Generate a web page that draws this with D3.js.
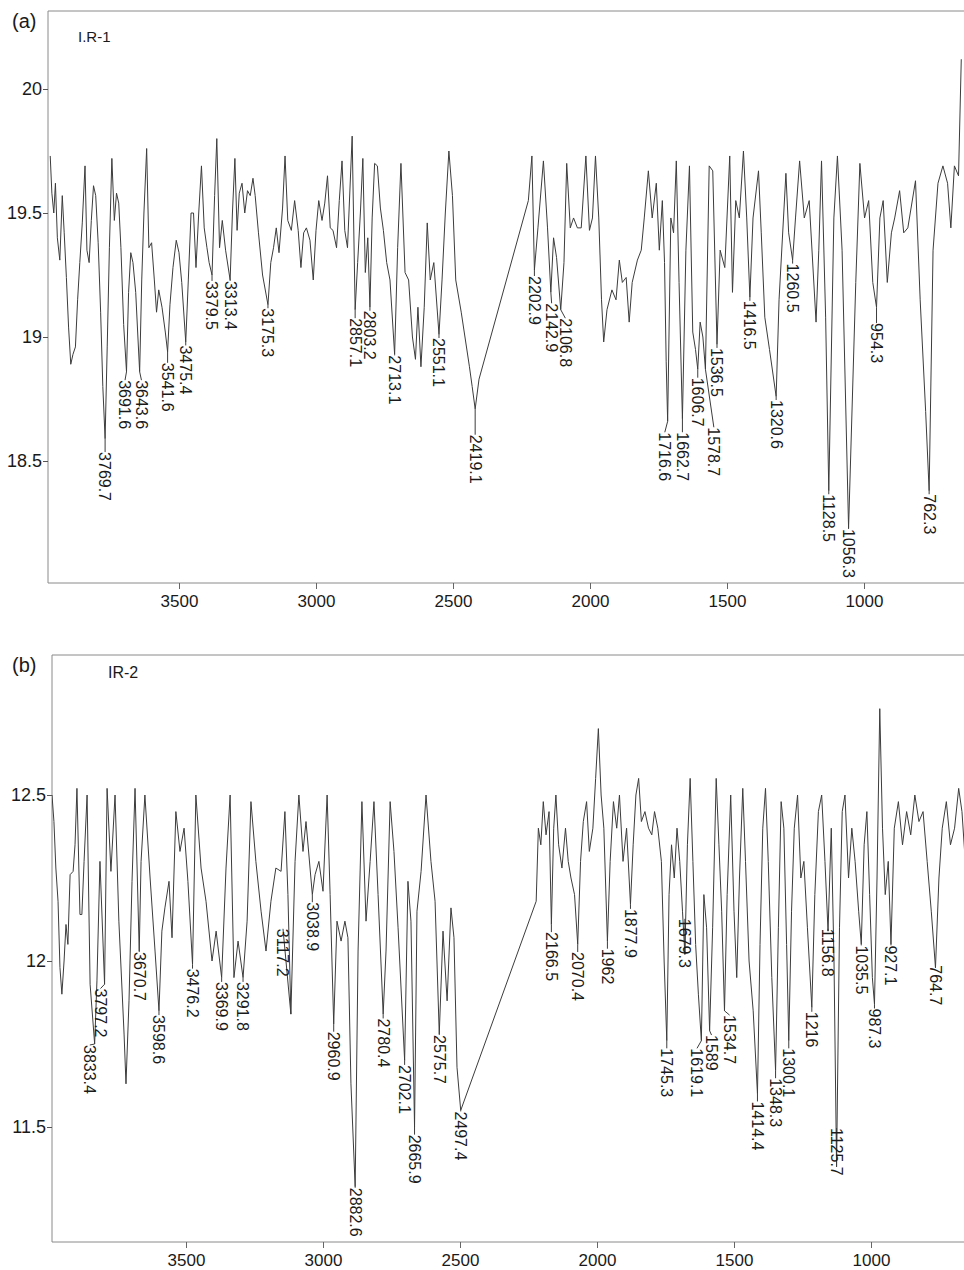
<!DOCTYPE html>
<html>
<head>
<meta charset="utf-8">
<script src="https://cdn.jsdelivr.net/npm/d3@7"></script>
<style>
  body { margin: 0; background: #fff; }
  svg { display: block; }
  text { font-family: "Liberation Sans", Arial, sans-serif; fill: #1a1a1a; }
</style>
</head>
<body>
<div id="chart"></div>
<script>
// wavenumber (cm-1) ticks, shared by both spectra
const xTicks = [3500, 3000, 2500, 2000, 1500, 1000];

// (a) I.R-1 : [wavenumber, transmittance]
const yTicksA = [20, 19.5, 19, 18.5];
const specA = [
  [3970,19.73],[3964,19.58],[3957,19.50],[3951,19.62],[3944,19.40],[3935,19.31],[3926,19.57],[3919,19.42],
  [3911,19.24],[3903,19.04],[3895,18.89],[3887,18.93],[3878,18.96],[3870,19.15],[3862,19.30],[3853,19.46],
  [3843,19.69],[3836,19.35],[3828,19.30],[3820,19.47],[3812,19.61],[3804,19.57],[3795,19.38],[3786,19.10],
  [3778,18.80],[3769.7,18.59],[3762,18.96],[3754,19.36],[3745,19.72],[3736,19.47],[3728,19.58],[3720,19.54],
  [3712,19.36],[3702,19.05],[3691.6,18.86],[3684,19.18],[3676,19.34],[3668,19.30],[3658,19.18],[3650,19.00],
  [3643.6,18.86],[3636,19.23],[3628,19.50],[3618,19.76],[3610,19.36],[3600,19.38],[3590,19.23],[3582,19.10],
  [3574,19.19],[3562,19.12],[3550,19.02],[3541.6,18.94],[3533,19.13],[3522,19.28],[3510,19.39],[3500,19.34],
  [3490,19.22],[3475.4,18.98],[3466,19.23],[3456,19.50],[3447,19.50],[3438,19.28],[3428,19.50],[3418,19.69],
  [3408,19.44],[3398,19.36],[3390,19.30],[3379.5,19.25],[3370,19.57],[3362,19.80],[3352,19.36],[3342,19.47],
  [3330,19.35],[3313.4,19.23],[3305,19.50],[3296,19.72],[3288,19.43],[3280,19.58],[3270,19.62],[3260,19.50],
  [3250,19.59],[3240,19.57],[3230,19.64],[3222,19.57],[3210,19.42],[3195,19.25],[3175.3,19.13],[3165,19.30],
  [3155,19.36],[3145,19.44],[3135,19.34],[3122,19.52],[3113,19.73],[3103,19.47],[3090,19.43],[3078,19.55],
  [3065,19.43],[3055,19.28],[3045,19.42],[3035,19.44],[3022,19.39],[3010,19.23],[3000,19.43],[2990,19.55],
  [2978,19.47],[2968,19.54],[2958,19.65],[2948,19.44],[2938,19.43],[2925,19.36],[2915,19.55],[2905,19.71],
  [2895,19.43],[2885,19.36],[2868,19.81],[2857.1,19.11],[2848,19.30],[2838,19.50],[2829,19.72],[2820,19.26],
  [2811,19.40],[2803.2,19.12],[2795,19.48],[2786,19.70],[2776,19.69],[2765,19.52],[2754,19.43],[2742,19.30],
  [2730,19.23],[2713.1,18.93],[2702,19.36],[2690,19.70],[2675,19.26],[2662,19.23],[2648,19.00],[2637,18.91],
  [2628,19.12],[2617,18.88],[2605,19.12],[2594,19.46],[2583,19.23],[2570,19.30],[2551.1,19.01],[2540,19.23],
  [2528,19.50],[2515,19.75],[2502,19.57],[2490,19.23],[2470,19.10],[2440,18.88],[2430,18.80],[2419.1,18.71],
  [2405,18.83],[2225,19.55],[2212,19.73],[2202.9,19.27],[2190,19.44],[2170,19.71],[2155,19.44],[2142.9,19.18],
  [2133,19.40],[2122,19.32],[2106.8,19.11],[2095,19.30],[2085,19.70],[2072,19.44],[2060,19.48],[2046,19.44],
  [2032,19.44],[2015,19.73],[2002,19.43],[1991,19.48],[1980,19.73],[1968,19.48],[1958,19.15],[1950,18.98],
  [1938,19.11],[1920,19.19],[1905,19.15],[1893,19.31],[1882,19.22],[1868,19.24],[1857,19.06],[1846,19.22],
  [1827,19.31],[1813,19.35],[1802,19.48],[1787,19.67],[1773,19.48],[1758,19.62],[1747,19.35],[1736,19.55],
  [1728,19.30],[1722,18.90],[1716.6,18.66],[1705,19.48],[1695,19.42],[1685,19.71],[1675,19.22],[1662.7,18.67],
  [1650,19.35],[1637,19.69],[1625,19.02],[1615,18.95],[1606.7,18.87],[1598,19.06],[1588,19.00],[1578.7,18.87],
  [1565,19.69],[1552,19.67],[1536.5,18.97],[1525,19.35],[1508,19.28],[1490,19.73],[1480,19.18],[1468,19.55],
  [1455,19.48],[1440,19.75],[1428,19.48],[1416.5,19.16],[1405,19.48],[1385,19.67],[1375,19.42],[1362,19.08],
  [1345,18.95],[1320.6,18.76],[1310,19.15],[1285,19.66],[1275,19.42],[1260.5,19.31],[1250,19.48],[1235,19.71],
  [1218,19.48],[1200,19.55],[1175,19.06],[1165,19.35],[1155,19.71],[1140,19.08],[1128.5,18.38],[1110,19.48],
  [1097,19.73],[1080,19.35],[1056.3,18.23],[1030,19.22],[1015,19.70],[998,19.48],[983,19.55],[968,19.22],
  [954.3,19.12],[942,19.48],[930,19.55],[915,19.22],[900,19.42],[888,19.48],[870,19.59],[855,19.42],
  [840,19.44],[812,19.63],[795,19.15],[775,18.70],[762.3,18.38],[748,19.35],[730,19.62],[712,19.69],
  [695,19.62],[683,19.44],[670,19.69],[655,19.65],[645,20.12]
];
// [label, value where the label starts, optional wavenumber of the label]
const peaksA = [
  ["3769.7",18.54],["3691.6",18.83,3697],["3643.6",18.83,3637],["3541.6",18.90],["3475.4",18.97],["3379.5",19.23],
  ["3313.4",19.23],["3175.3",19.12],["2857.1",19.08],["2803.2",19.11],["2713.1",18.93],["2551.1",19.00],
  ["2419.1",18.61],["2202.9",19.25],["2142.9",19.14,2140],["2106.8",19.08,2090],["1716.6",18.62,1727],["1662.7",18.62],
  ["1606.7",18.84],["1578.7",18.64,1548],["1536.5",18.96],["1416.5",19.15],["1320.6",18.75],["1260.5",19.30],
  ["1128.5",18.37],["1056.3",18.23],["954.3",19.06],["762.3",18.37]
];

// (b) IR-2
const yTicksB = [12.5, 12, 11.5];
const specB = [
  [3989,12.50],[3982,12.42],[3975,12.28],[3967,12.18],[3960,11.98],[3953,11.90],[3945,12.00],[3938,12.11],
  [3931,12.05],[3923,12.26],[3912,12.27],[3905,12.35],[3898,12.52],[3887,12.14],[3880,12.14],[3872,12.30],
  [3861,12.50],[3850,11.93],[3833.4,11.75],[3825,11.94],[3814,12.30],[3797.2,11.93],[3788,12.52],[3774,12.27],
  [3759,12.50],[3745,12.12],[3726,11.78],[3719,11.63],[3708,11.88],[3697,12.24],[3686,12.52],[3670.7,12.03],
  [3664,12.30],[3650,12.50],[3631,12.25],[3613,12.03],[3598.6,11.85],[3588,12.09],[3577,12.16],[3562,12.24],
  [3551,12.07],[3537,12.45],[3522,12.33],[3507,12.40],[3493,12.24],[3476.2,11.99],[3464,12.50],[3445,12.28],
  [3427,12.18],[3405,12.00],[3390,12.09],[3369.9,11.95],[3354,12.28],[3339,12.50],[3325,11.95],[3310,12.06],
  [3291.8,11.95],[3277,12.12],[3263,12.48],[3245,12.30],[3226,12.15],[3208,12.03],[3190,12.18],[3172,12.28],
  [3153,12.27],[3139,12.45],[3128,12.20],[3117.2,11.84],[3102,12.30],[3088,12.50],[3073,12.33],[3062,12.42],
  [3038.9,12.20],[3029,12.26],[3015,12.30],[3000,12.21],[2985,12.50],[2974,12.20],[2960.9,11.81],[2949,12.12],
  [2934,12.06],[2920,12.12],[2909,12.07],[2898,11.63],[2882.6,11.32],[2872,12.03],[2858,12.48],[2843,12.12],
  [2828,12.30],[2814,12.48],[2799,12.20],[2780.4,11.84],[2770,12.03],[2755,12.48],[2741,12.33],[2726,12.10],
  [2702.1,11.70],[2690,12.24],[2679,12.12],[2665.9,11.50],[2657,12.15],[2642,12.27],[2624,12.50],[2606,12.30],
  [2591,12.18],[2575.7,11.78],[2562,12.09],[2547,11.88],[2533,12.16],[2522,12.07],[2511,11.68],[2497.4,11.55],
  [2222,12.18],[2214,12.40],[2205,12.35],[2196,12.48],[2186,12.38],[2175,12.45],[2166.5,12.11],[2158,12.40],
  [2150,12.50],[2140,12.35],[2128,12.28],[2115,12.40],[2105,12.30],[2095,12.25],[2082,12.20],[2070.4,12.05],
  [2060,12.30],[2050,12.42],[2038,12.48],[2028,12.33],[2015,12.40],[2005,12.55],[1995,12.70],[1985,12.50],
  [1975,12.40],[1962,12.06],[1952,12.30],[1940,12.48],[1928,12.40],[1918,12.50],[1905,12.30],[1892,12.40],
  [1877.9,12.17],[1868,12.35],[1858,12.50],[1848,12.55],[1838,12.42],[1825,12.45],[1812,12.40],[1800,12.38],
  [1790,12.45],[1778,12.40],[1765,12.30],[1755,12.00],[1745.3,11.76],[1737,12.20],[1728,12.35],[1718,12.25],
  [1708,12.40],[1698,12.30],[1688,12.15],[1679.3,12.02],[1670,12.35],[1660,12.55],[1650,12.30],[1640,12.05],
  [1630,11.90],[1619.1,11.76],[1610,12.20],[1600,12.10],[1589,11.79],[1578,12.10],[1565,12.55],[1555,12.35],
  [1545,12.15],[1534.7,11.85],[1525,12.20],[1512,12.50],[1500,12.15],[1490,11.95],[1480,12.25],[1468,12.52],
  [1458,12.30],[1445,12.00],[1430,11.85],[1414.4,11.60],[1405,12.05],[1395,12.40],[1385,12.52],[1375,12.30],
  [1362,11.95],[1348.3,11.67],[1338,12.10],[1328,12.48],[1318,12.40],[1308,12.05],[1300.1,11.76],[1290,12.15],
  [1280,12.40],[1268,12.50],[1256,12.25],[1245,12.30],[1232,12.10],[1216,11.86],[1205,12.20],[1192,12.45],
  [1180,12.50],[1168,12.30],[1156.8,12.09],[1145,12.40],[1135,12.00],[1125.7,11.38],[1115,12.10],[1105,12.45],
  [1095,12.50],[1082,12.25],[1070,12.40],[1058,12.30],[1045,12.15],[1035.5,12.05],[1025,12.35],[1015,12.45],
  [1005,12.20],[995,11.95],[987.3,11.87],[978,12.25],[968,12.76],[958,12.40],[948,12.20],[937,12.30],
  [927.1,12.05],[915,12.40],[900,12.48],[885,12.35],[870,12.45],[855,12.38],[840,12.50],[825,12.42],
  [810,12.45],[795,12.30],[780,12.15],[764.7,11.98],[752,12.25],[740,12.40],[725,12.48],[710,12.35],
  [695,12.40],[680,12.52],[668,12.45],[656,12.30]
];
const peaksB = [
  ["3833.4",11.75,3851],["3797.2",11.92,3812],["3670.7",12.03],["3598.6",11.84],["3476.2",11.98],["3369.9",11.94],
  ["3291.8",11.94],["3117.2",12.10,3146],["3038.9",12.18],["2960.9",11.79],["2882.6",11.32],["2780.4",11.83],
  ["2702.1",11.69],["2665.9",11.48],["2575.7",11.78],["2497.4",11.55],["2166.5",12.09],["2070.4",12.03],
  ["1962",12.04],["1877.9",12.16],["1745.3",11.74],["1679.3",12.13],["1619.1",11.74,1635],["1589",11.78,1582],
  ["1534.7",11.84,1516],["1414.4",11.58],["1348.3",11.65],["1300.1",11.74],["1216",11.85],["1156.8",12.10],
  ["1125.7",11.50],["1035.5",12.05],["987.3",11.86],["927.1",12.05],["764.7",11.99]
];

const W = 964, H = 1270;
const svg = d3.select('#chart').append('svg')
  .attr('width', W)
  .attr('height', H);

function drawPanel(o) {
  var g = svg.append('g');

  var x = d3.scaleLinear().domain([3500, 1000]).range([o.x3500, o.x1000]);
  var y = d3.scaleLinear().domain([o.yTicks[0], o.yTicks[1]]).range([o.yTop, o.yTop + o.yStep]);

  var clipId = 'clip' + o.tag.replace(/\W/g, '');
  g.append('clipPath').attr('id', clipId)
    .append('rect')
    .attr('x', o.left).attr('y', o.top)
    .attr('width', W - o.left).attr('height', o.bottom - o.top);

  // frame
  g.append('path')
    .attr('d', `M${W},${o.top}H${o.left}V${o.bottom}H${W}`)
    .attr('fill', 'none')
    .attr('stroke', '#8a8a8a')
    .attr('stroke-width', 1);

  // x axis
  var xa = g.append('g')
    .attr('transform', `translate(0,${o.bottom})`)
    .call(d3.axisBottom(x).tickValues(xTicks).tickSize(6).tickSizeOuter(0).tickFormat(d3.format('d')));
  xa.select('.domain').remove();
  xa.selectAll('line').attr('stroke', '#666');
  xa.selectAll('text').attr('font-size', 17).attr('y', 24).attr('dy', 0).attr('fill', '#1a1a1a');

  // y axis
  var ya = g.append('g')
    .attr('transform', `translate(${o.left},0)`)
    .call(d3.axisLeft(y).tickValues(o.yTicks).tickSize(5).tickFormat(d3.format('~g')));
  ya.select('.domain').remove();
  ya.selectAll('line').attr('stroke', '#555');
  ya.selectAll('text').attr('font-size', 18).attr('x', -6).attr('fill', '#1a1a1a');

  // spectrum
  var line = d3.line()
    .x(function (d) { return x(d[0]); })
    .y(function (d) { return y(d[1]); });
  g.append('path')
    .datum(o.spec)
    .attr('clip-path', `url(#${clipId})`)
    .attr('d', line)
    .attr('fill', 'none')
    .attr('stroke', '#3c3c3c')
    .attr('stroke-width', 1)
    .attr('stroke-linejoin', 'round');

  // peak labels with leader lines
  var minOf = {};
  o.spec.forEach(function (d) { minOf[d[0]] = d[1]; });
  var pk = g.append('g').attr('clip-path', `url(#${clipId})`);
  o.peaks.forEach(function (p) {
    var wn = +p[0];
    var lx = x(p[2] || wn);
    var ly = y(p[1]) + 1;
    var py = minOf[wn] !== undefined ? y(minOf[wn]) : ly;
    pk.append('line')
      .attr('x1', x(wn)).attr('y1', py)
      .attr('x2', lx).attr('y2', ly)
      .attr('stroke', '#3c3c3c').attr('stroke-width', 1);
    pk.append('text')
      .attr('transform', `translate(${lx},${ly}) rotate(90)`)
      .attr('dy', '0.35em')
      .attr('font-size', 16)
      .text(p[0]);
  });

  g.append('text').attr('x', 12).attr('y', o.top + 17).attr('font-size', 20).text(o.tag);
  g.append('text').attr('x', o.titleX).attr('y', o.titleY).attr('font-size', o.titleSize).text(o.title);
}

drawPanel({
  tag: '(a)', title: 'I.R-1', titleX: 78, titleY: 42, titleSize: 15,
  spec: specA, peaks: peaksA, yTicks: yTicksA,
  left: 48, top: 11, bottom: 583,
  x3500: 179, x1000: 864, yTop: 89, yStep: 124
});

drawPanel({
  tag: '(b)', title: 'IR-2', titleX: 108, titleY: 678, titleSize: 16,
  spec: specB, peaks: peaksB, yTicks: yTicksB,
  left: 52, top: 655, bottom: 1242,
  x3500: 186, x1000: 871, yTop: 795, yStep: 166
});
</script>
</body>
</html>
